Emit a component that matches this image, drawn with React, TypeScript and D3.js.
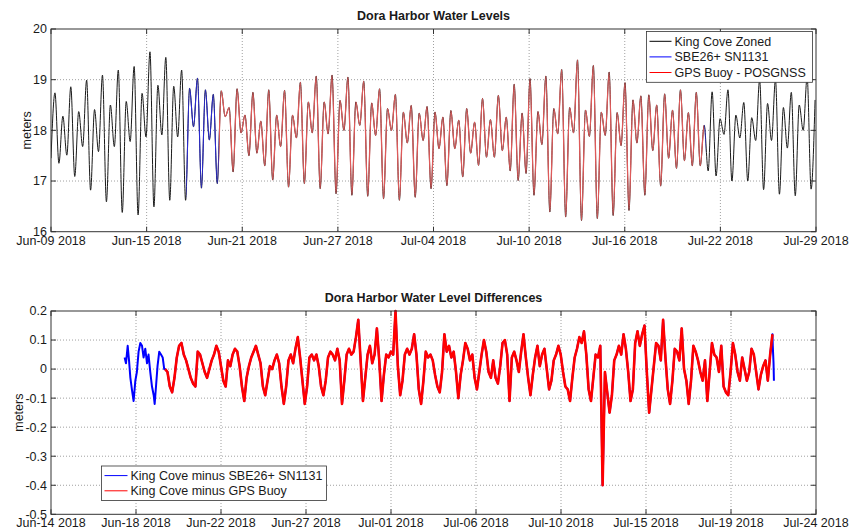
import React from "react";
import * as d3 from "d3";

const HOUR = 3600 * 1000;
const DAY = 24 * HOUR;

// ---- top panel: water levels (m), successive highs/lows every ~6.21 h from Jun-09 00:00
const levelStart = Date.UTC(2018, 5, 9);
const levelStepHours = 6.21;
const kingCoveLevels = [
  17.45,
  18.74, 17.35, 18.28, 17.51, 18.86, 17.09, 18.37, 17.68, 18.99, 16.82,
  18.41, 17.58, 19.09, 16.59, 18.5, 17.68, 19.19, 16.38, 18.57, 17.78,
  19.26, 16.33, 18.73, 17.87, 19.55, 16.49, 18.89, 17.91, 19.44, 16.62,
  18.87, 17.87, 19.19, 16.62, 18.83, 18.07, 19.03, 16.86, 18.8, 17.81,
  18.71, 16.95, 18.78, 18.27, 18.45, 17.18, 18.82, 17.95, 18.3, 17.5,
  18.75, 17.55, 18.18, 17.3, 18.8, 17.02, 18.3, 17.68, 18.79, 16.88,
  18.3, 17.85, 18.95, 16.95, 18.56, 17.95, 19.07, 16.85, 18.56, 17.93,
  19.09, 16.75, 18.59, 18.0, 19.05, 16.72, 18.56, 18.1, 18.97, 16.7,
  18.54, 17.9, 18.82, 16.65, 18.43, 18.0, 18.71, 16.62, 18.36, 17.75,
  18.49, 16.68, 18.34, 17.8, 18.47, 16.85, 18.36, 17.64, 18.26, 16.91,
  18.39, 17.64, 18.2, 17.08, 18.43, 17.55, 18.16, 17.31, 18.63, 17.47,
  18.21, 17.47, 18.69, 17.6, 18.26, 17.2, 18.91, 17.01, 18.34, 17.15,
  19.02, 16.72, 18.37, 17.72, 19.07, 16.39, 18.43, 17.93, 19.2, 16.29,
  18.45, 17.95, 19.39, 16.22, 18.4, 17.88, 19.28, 16.26, 18.36, 17.9,
  19.15, 16.32, 18.35, 17.7, 18.94, 16.42, 18.6, 17.75, 18.68, 16.72,
  18.7, 17.6, 18.5, 16.9, 18.72, 17.45, 18.4, 17.25, 18.8, 17.4,
  18.35, 17.3, 18.75, 17.3, 18.1, 17.2, 18.76, 17.1, 18.23, 17.92,
  18.8, 17.0, 18.3, 17.85, 18.55, 17.0, 18.25, 17.8, 19.0, 16.83,
  18.53, 17.8, 19.0, 16.74, 18.45, 17.65, 18.75, 16.71, 18.5, 18.0,
  19.05, 16.84, 18.6,
];
// time spans covered by the two other gauges (they overlay the King Cove curve)
const sbeSpan = [Date.UTC(2018, 5, 17, 20), Date.UTC(2018, 6, 21, 19)];
const gpsSpan = [Date.UTC(2018, 5, 19, 23, 15), Date.UTC(2018, 6, 21, 16, 30)];

// ---- bottom panel: differences (cm)
const gpsDiffStart = Date.UTC(2018, 5, 19, 23, 15);
const gpsDiffStepHours = 2.92;
const gpsDiffCm = [
  0, -1, -6, -8, -3, 4, 8, 9, 5, 3, 0, -3, -5, -6, 6, 5, 2, -1, -3, 0,
  3, 5, 8, 6, 1, -4, -6, 3, 1, 5, 7, 6, 1, -6, -11, -3, 1, 4, 6, 8, 5,
  2, -6, -9, -4, 1, 0, 3, 5, 2, -6, -12, -6, 3, 5, 2, 7, 11, 4, -4, -12,
  -6, 4, 5, 3, 5, 1, -6, -9, -4, 4, 6, 5, 3, 7, 3, -12, -4, 5, 7, 5,
  6, 11, 17, 3, -11, -3, 5, 8, 2, 5, 14, 3, -11, -2, 5, 4, 6, 5, 20, 1,
  -9, -4, 5, 7, 5, 7, 12, 5, -7, -12, -4, 6, 4, 5,
  3, -2, -6, -8, -1, 12, 6, 8, 4, 6, -1, -10, -2, 3, 9, 7, 3, 5, -3, -7,
  -1, 5, 10, 6, -1, -3, 3, -3, -5, 1, 9, 10, 5, -11, 4, 6, 3, -1, 6, 12,
  4, -3, -9, -2, 4, 8, 1, 5, 7, 0, -7, -4, 3, 5, 8, 5, -1, -6, -7, -11,
  -3, 4, 7, 11, 9, 13, 5, -7, -11, -3, 5, 4,
  8, -40, -1, -8, -15, -9, 3, 5, 8, 5, 12, 7, -1, -11, -7, 9, 13, 8, 12, 15,
  -1, -15, -7, 1, 9, 8, 3, 17, 4, -7, -12, -4, 7, 6, 3, 14, 0, -4, -12, -4,
  8, 6, 3, -1, -4, 3, -11, -1, 9, 5, 4, -1, 8, -6, -8, -9, -1, 9, 5, -1,
  -4, 4, 0, -4, -1, 7, 5, -1, -7, -2, 1, 3, -4, 5, 12,
];
const diffEpoch = Date.UTC(2018, 5, 14);
// SBE difference where it shows outside the GPS trace: [days after Jun-14, cm]
// (between these it runs under the red GPS trace)
const sbeDiffLeadCm = [
  [3.85, 4], [3.92, 2], [4.01, 8], [4.08, 3], [4.15, -3], [4.23, -7], [4.32, -11], [4.41, -4],
  [4.49, -1], [4.58, 6], [4.67, 9], [4.76, 8], [4.84, 4], [4.93, 7], [5.02, 2], [5.1, 5],
  [5.19, -1], [5.28, -6], [5.37, -9], [5.42, -12], [5.49, -6], [5.57, 1], [5.66, 6], [5.75, 5],
  [5.84, 4], [5.92, 0],
];
const sbeDiffTailCm = [[37.74, 8], [37.78, 2], [37.8, -4]];

// ---- axes
const levelDomain = [Date.UTC(2018, 5, 9), Date.UTC(2018, 6, 29)];
const diffDomain = [Date.UTC(2018, 5, 14), Date.UTC(2018, 6, 24)];
const levelXTickCount = 9;
const diffXTickCount = 10;
const levelYTicks = [16, 17, 18, 19, 20];
const diffYTicks = [-0.5, -0.4, -0.3, -0.2, -0.1, 0, 0.1, 0.2];

const levelLegend = [
  { label: "King Cove Zoned", color: "#000000" },
  { label: "SBE26+ SN1131", color: "#0000ff" },
  { label: "GPS Buoy - POSGNSS", color: "#ff0000" },
];
const diffLegend = [
  { label: "King Cove minus SBE26+ SN1131", color: "#0000ff" },
  { label: "King Cove minus GPS Buoy", color: "#ff0000" },
];

const FONT = "'Liberation Sans', Arial, Helvetica, sans-serif";
const FS = 12.5;
const L = 51;
const R = 816;
const fmtDate = d3.utcFormat("%b-%d %Y");

function Frame({ x, y, xTicks, yTicks, yFmt, title, labelX }) {
  const [y0, y1] = y.range();
  return (
    <g fontFamily={FONT} fontSize={FS} fill="#1a1a1a">
      {xTicks.slice(1, -1).map((t, i) => (
        <line key={"gx" + i} x1={x(t)} x2={x(t)} y1={y1} y2={y0} stroke="#a0a0a0" strokeDasharray="1 2" />
      ))}
      {yTicks.slice(1, -1).map((t, i) => (
        <line key={"gy" + i} x1={L} x2={R} y1={y(t)} y2={y(t)} stroke="#a0a0a0" strokeDasharray="1 2" />
      ))}
      {xTicks.map((t, i) => (
        <g key={"tx" + i}>
          <line x1={x(t)} x2={x(t)} y1={y0} y2={y0 - 5} stroke="#333" />
          <line x1={x(t)} x2={x(t)} y1={y1} y2={y1 + 5} stroke="#333" />
          <text x={x(t)} y={y0 + 12.8} textAnchor="middle">{fmtDate(t)}</text>
        </g>
      ))}
      {yTicks.map((t, i) => (
        <g key={"ty" + i}>
          <line x1={L} x2={L + 5} y1={y(t)} y2={y(t)} stroke="#333" />
          <line x1={R} x2={R - 5} y1={y(t)} y2={y(t)} stroke="#333" />
          <text x={L - 4} y={y(t)} dy="0.35em" textAnchor="end">{yFmt(t)}</text>
        </g>
      ))}
      <text x={(L + R) / 2} y={y1 - 9.5} textAnchor="middle" fontWeight="bold">{title}</text>
      <text transform={`translate(${labelX},${(y0 + y1) / 2}) rotate(-90)`} textAnchor="middle">meters</text>
    </g>
  );
}

function Legend({ items, x, y, w, rowH, lineLen }) {
  const h = rowH * items.length + 4;
  return (
    <g fontFamily={FONT} fontSize={FS}>
      <rect x={x} y={y} width={w} height={h} fill="#fff" stroke="#333" strokeWidth={0.8} />
      {items.map((it, i) => {
        const cy = y + 2 + rowH * (i + 0.5);
        return (
          <g key={i}>
            <line x1={x + 3} x2={x + 3 + lineLen} y1={cy} y2={cy} stroke={it.color} />
            <text x={x + lineLen + 6} y={cy} dy="0.35em" fill="#1a1a1a">{it.label}</text>
          </g>
        );
      })}
    </g>
  );
}

function evenTicks(domain, n) {
  const step = (domain[1] - domain[0]) / (n - 1);
  return d3.range(n).map((i) => new Date(domain[0] + i * step));
}

export default function App() {
  // top panel
  const xTop = d3.scaleUtc().domain(levelDomain).range([L, R]);
  const yTop = d3.scaleLinear().domain([16, 20]).range([231.7, 29]);
  const tidePts = kingCoveLevels.map((v, i) => [levelStart + i * levelStepHours * HOUR, v]);
  const tideLine = d3
    .line()
    .x((d) => xTop(d[0]))
    .y((d) => yTop(d[1]))
    .curve(d3.curveMonotoneX);
  const tidePath = tideLine(tidePts);

  // bottom panel
  const xBot = d3.scaleUtc().domain(diffDomain).range([L, R]);
  const yBot = d3.scaleLinear().domain([-0.5, 0.2]).range([514.3, 311]);
  const diffLine = d3
    .line()
    .x((d) => xBot(d[0]))
    .y((d) => yBot(d[1]));
  const gpsPts = gpsDiffCm.map((v, i) => [gpsDiffStart + i * gpsDiffStepHours * HOUR, v / 100]);
  const toPts = (arr) => arr.map(([d, v]) => [diffEpoch + d * DAY, v / 100]);
  const sbePts = [...toPts(sbeDiffLeadCm), ...gpsPts, ...toPts(sbeDiffTailCm)];

  const [tY0, tY1] = yTop.range();
  const band = (a, b) => ({ x: xTop(a), width: xTop(b) - xTop(a) });
  const sbeA = band(sbeSpan[0], gpsSpan[0]);
  const sbeB = band(gpsSpan[1], sbeSpan[1]);
  const gpsR = band(gpsSpan[0], gpsSpan[1]);

  return (
    <svg
      width={850}
      height={531}
      style={{ position: "absolute", left: 0, top: 0, background: "#fff" }}
    >
      <defs>
        <clipPath id="clipTop">
          <rect x={L} y={tY1} width={R - L} height={tY0 - tY1} />
        </clipPath>
        <clipPath id="clipSbe">
          <rect x={sbeA.x} y={tY1} width={sbeA.width} height={tY0 - tY1} />
          <rect x={sbeB.x} y={tY1} width={sbeB.width} height={tY0 - tY1} />
        </clipPath>
        <clipPath id="clipGps">
          <rect x={gpsR.x} y={tY1} width={gpsR.width} height={tY0 - tY1} />
        </clipPath>
      </defs>
      <rect width={850} height={531} fill="#fff" />

      {/* ---- top */}
      <Frame
        x={xTop}
        y={yTop}
        xTicks={evenTicks(levelDomain, levelXTickCount)}
        yTicks={levelYTicks}
        yFmt={(v) => String(v)}
        title="Dora Harbor Water Levels"
        labelX={30.5}
      />
      <g clipPath="url(#clipTop)" fill="none">
        <path d={tidePath} stroke="#1a1a1a" strokeWidth={1} />
        <path d={tidePath} stroke="#2a2ad0" strokeWidth={1.1} clipPath="url(#clipSbe)" />
        <path d={tidePath} stroke="#de5a5a" strokeWidth={1.3} clipPath="url(#clipGps)" />
      </g>
      <rect x={L} y={tY1} width={R - L} height={tY0 - tY1} fill="none" stroke="#333" />
      <Legend items={levelLegend} x={646.5} y={31.5} w={166} rowH={15.6} lineLen={22} />

      {/* ---- bottom */}
      <Frame
        x={xBot}
        y={yBot}
        xTicks={evenTicks(diffDomain, diffXTickCount)}
        yTicks={diffYTicks}
        yFmt={(v) => (v === 0 ? "0" : v.toFixed(1))}
        title="Dora Harbor Water Level Differences"
        labelX={22.5}
      />
      <g fill="none" strokeLinejoin="round">
        <path d={diffLine(sbePts)} stroke="#0000ff" strokeWidth={2} />
        <path d={diffLine(gpsPts)} stroke="#ff0000" strokeWidth={2.6} />
      </g>
      <rect x={L} y={311} width={R - L} height={514.3 - 311} fill="none" stroke="#333" />
      <Legend items={diffLegend} x={101.5} y={466} w={225} rowH={15.2} lineLen={23} />
    </svg>
  );
}
